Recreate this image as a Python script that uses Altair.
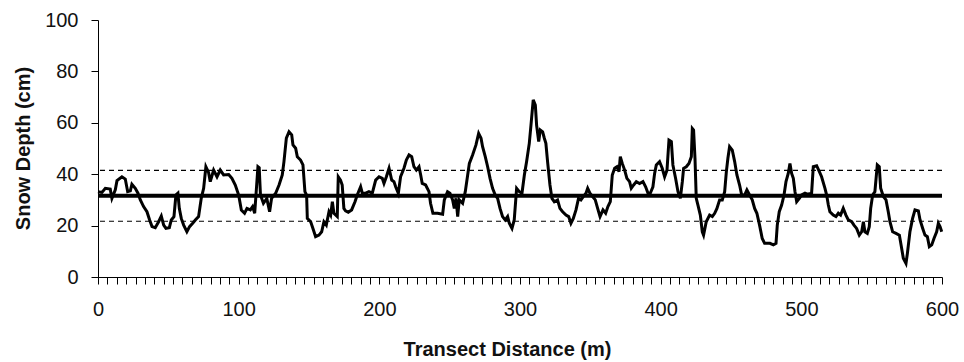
import altair as alt
import pandas as pd

# Transect distance (m) and snow depth (cm)
distance = [
    0, 2.8, 5.2, 8.7, 9.9, 12.3, 13.5, 17.0, 19.4, 21.1, 23.0, 24.1, 26.5, 28.4, 30.1, 32.4, 34.8, 36.7, 38.4, 40.7,
    43.1, 45.0, 46.7, 48.3, 50.7, 52.1, 54.0, 55.4, 56.8, 57.8, 59.2, 60.9, 63.2, 65.1, 67.3, 69.2, 71.5, 73.4, 75.1, 76.7,
    78.6, 79.8, 82.2, 84.6, 86.9, 89.3, 92.9, 95.2, 97.6, 100.0, 101.9, 104.2, 105.9, 108.3, 109.9, 111.4, 112.3, 113.7, 114.6, 115.5,
    117.6, 120.0,
    122.0, 123.4, 126.3, 128.7, 131.0, 132.2, 133.9, 135.8, 137.7, 138.6, 140.5, 141.7, 144.0, 145.7, 147.1, 148.3, 148.8, 151.2,
    152.8, 154.7, 157.1, 159.0, 160.6, 162.3, 164.2, 165.4, 166.6, 167.7, 170.1, 170.8, 172.4, 173.6, 174.8, 176.0, 177.9, 180.3,
    182.7, 184.3, 186.7, 187.9, 190.3, 192.6, 195.0, 197.4, 199.8, 202.1, 203.3, 205.0, 206.9, 208.8, 210.4, 211.6, 213.5, 215.1,
    217.5, 219.2, 221.1, 223.0, 224.6, 226.3, 228.2, 229.4, 230.5, 232.9, 235.3, 236.4, 238.1,
    241.4, 245.0, 246.2, 248.5, 250.2, 252.1, 253.3, 254.5, 255.7, 256.8, 259.2, 261.1, 262.8, 264.0, 266.3, 268.7, 270.6, 272.3,
    273.4, 275.3, 277.0, 278.7, 280.5, 282.4, 284.1, 285.8, 287.6, 289.5, 291.2, 292.4, 294.3, 295.9, 297.6, 299.5, 301.4, 303.1,
    304.7, 306.6, 307.8, 309.4, 310.9, 311.8, 313.3, 314.4, 316.1, 317.3, 318.4, 319.6, 321.3, 322.7, 324.4, 326.7, 328.4, 330.3,
    332.7, 334.6, 336.2, 337.9, 339.8, 341.6, 343.3, 345.0, 346.9, 348.1, 349.7, 351.6, 353.5, 355.2, 356.9,
    359.0, 360.9, 362.5, 364.2, 365.6, 367.3, 368.9, 370.4, 371.3, 372.7, 374.4, 376.0, 377.9, 379.1, 380.8, 382.7, 385.0, 387.4,
    389.3, 391.0, 392.6, 394.5, 395.7, 396.9, 399.2, 401.1, 402.8, 404.5, 405.9, 407.6, 408.7, 410.6, 412.3, 414.0, 415.4, 416.3,
    418.2, 420.1, 421.8, 422.5, 423.4, 424.4, 425.3, 426.5, 428.2, 429.6, 430.5, 432.4, 434.8, 436.7, 438.4, 440.0, 441.9, 443.8,
    445.5, 446.7, 447.8, 449.0, 450.9, 452.6, 454.2, 456.1, 457.6, 459.7, 461.3, 463.2, 465.1, 466.8, 468.4, 470.3, 472.2, 473.9,
    476.3,
    477.7, 480.1, 482.0, 482.9, 484.3, 486.0, 487.7, 489.1, 490.7, 491.9, 493.1, 494.3, 495.5, 496.7, 498.6, 500.2, 502.6, 504.3,
    507.3, 508.5, 510.9, 512.8, 514.4, 516.8, 518.0, 519.2, 520.3, 522.7, 524.6, 526.3, 527.9, 529.8, 531.7, 533.4, 535.8, 537.4,
    539.3, 541.2, 542.9, 544.1, 545.2, 546.9, 548.3, 549.3, 550.7, 552.3, 554.0, 555.4, 556.4, 558.3, 560.2, 561.8, 563.0, 564.9,
    567.3, 569.7, 571.3, 572.5, 574.4, 575.4, 577.2, 579.1, 580.8, 583.2, 584.4, 586.3, 587.9, 589.6, 591.0, 592.7, 594.3, 596.2,
    597.4, 598.6, 599.8,
]
depth = [
    33.2, 32.9, 34.5, 34.2, 30.6, 33.9, 37.5, 39.0, 38.1, 33.2, 33.5, 36.1, 34.5, 32.6, 30.0, 27.4, 25.4, 22.2, 19.6, 19.2,
    21.5, 23.7, 20.2, 18.9, 19.2, 22.2, 23.5, 31.9, 32.6, 26.7, 22.8, 20.2, 17.6, 19.6, 20.9, 22.2, 23.5, 30.6, 34.5, 42.9,
    40.7, 37.1, 41.6, 39.0, 41.6, 39.7, 39.9, 38.4, 35.8, 31.9, 26.1, 24.8, 26.7, 26.1, 27.4, 24.8, 31.9, 42.9, 42.5, 31.9,
    28.7, 30.6,
    25.4, 30.6, 32.6, 35.8, 39.7, 44.9, 54.0, 56.5, 55.3, 51.4, 50.1, 46.8, 45.5, 43.6, 33.2, 31.9, 22.8, 21.5,
    18.9, 15.7, 16.3, 17.6, 21.5, 20.2, 25.4, 24.1, 29.3, 24.8, 23.5, 39.0, 37.7, 35.8, 26.7, 25.7, 25.2, 26.1,
    29.3, 31.9, 35.1, 32.6, 32.6, 33.2, 32.6, 37.7, 39.0, 38.4, 36.4, 39.0, 42.3, 37.7, 37.1, 35.1, 32.6, 39.0,
    42.3, 45.5, 47.5, 46.8, 42.9, 41.6, 42.9, 39.7, 36.4, 35.8, 33.2, 28.7, 24.8,
    24.8, 24.4, 30.0, 33.2, 32.6, 30.0, 26.7, 30.6, 23.5, 30.0, 28.7, 33.2, 39.7, 44.2, 47.5, 51.4, 55.9, 54.0,
    50.7, 46.8, 42.9, 38.4, 34.5, 31.9, 30.6, 26.7, 23.5, 22.2, 23.5, 20.9, 18.9, 22.2, 34.5, 33.2, 32.6, 39.7,
    44.9, 52.0, 59.1, 68.9, 66.9, 59.1, 52.7, 57.2, 56.5, 54.0, 52.0, 44.9, 35.8, 30.6, 29.3, 30.0, 26.7, 25.4,
    24.1, 23.5, 20.9, 22.8, 26.1, 30.6, 30.0, 31.3, 32.6, 34.5, 32.6, 31.3, 30.0, 26.7, 23.5,
    26.1, 24.8, 27.4, 29.3, 39.7, 42.3, 42.9, 41.0, 46.8, 44.2, 41.6, 38.4, 37.1, 34.5, 35.8, 37.1, 36.4, 37.1,
    35.1, 32.6, 32.6, 35.1, 40.3, 43.6, 44.9, 42.3, 39.0, 41.6, 53.3, 52.7, 43.6, 38.4, 33.2, 30.6, 37.1, 42.3,
    42.9, 44.2, 46.8, 57.8, 57.2, 46.2, 30.6, 28.0, 24.1, 17.6, 16.3, 21.5, 24.1, 23.5, 24.8, 26.7, 30.0, 30.0,
    33.2, 41.0, 46.2, 50.7, 49.4, 44.9, 39.7, 35.8, 31.9, 31.9, 33.9, 31.9, 30.0, 26.7, 24.8, 20.2, 15.0, 13.1,
    13.1,
    13.1, 12.5, 13.1, 20.2, 25.4, 28.0, 31.9, 37.1, 40.3, 44.2, 40.3, 38.4, 33.2, 29.3, 30.6, 31.9, 32.6, 32.2,
    32.6, 42.9, 43.3, 41.0, 39.0, 34.5, 31.9, 28.0, 25.4, 24.1, 23.5, 24.8, 24.1, 26.7, 24.1, 22.2, 21.5, 20.2,
    18.9, 16.3, 17.6, 21.5, 17.6, 17.0, 19.6, 26.7, 31.9, 33.2, 43.6, 42.9, 34.5, 31.3, 30.0, 25.4, 21.5, 17.6,
    17.0, 16.3, 11.2, 7.3, 5.3, 9.2, 17.6, 22.8, 26.1, 25.7, 22.2, 18.9, 16.3, 15.7, 11.8, 12.5, 15.0, 17.6,
    20.9, 19.6, 17.6,
]

mean_depth = [31.6]
band_limits = [41.5, 21.7]

y_ticks = [0, 20, 40, 60, 80, 100]
x_minor_ticks = [i * 20 / 3 for i in range(91)]

FONT = "Liberation Sans"

series = pd.DataFrame({"distance": distance, "depth": depth})
mean_df = pd.DataFrame({"depth": mean_depth})
band_df = pd.DataFrame({"depth": band_limits})

x_scale = alt.Scale(domain=[0, 600], nice=False, zero=False)
y_scale = alt.Scale(domain=[0, 100], nice=False)

x_axis = alt.Axis(
    values=x_minor_ticks,
    labelExpr="(abs(datum.value % 100) < 0.01 || abs(datum.value % 100 - 100) < 0.01) ? format(datum.value, 'd') : ''",
    labelOverlap=False,
    labelFlush=False,
    grid=False,
    tickSize=7,
    tickColor="black",
    domainColor="black",
    labelPadding=15,
    labelFont=FONT,
    labelFontSize=20,
    labelColor="#111",
    title="Transect Distance (m)",
    titleFont=FONT,
    titleFontSize=20,
    titleFontWeight="bold",
    titleColor="#111",
    titleX=409,
    titleY=78,
    titleBaseline="alphabetic",
    titleAlign="center",
)
y_axis = alt.Axis(
    values=y_ticks,
    grid=False,
    tickSize=7,
    tickColor="black",
    domainColor="black",
    labelPadding=13,
    labelFont=FONT,
    labelFontSize=20,
    labelColor="#111",
    title="Snow Depth (cm)",
    titleFont=FONT,
    titleFontSize=20,
    titleFontWeight="bold",
    titleColor="#111",
    titleAngle=270,
    titleX=-69,
    titleY=128,
    titleBaseline="alphabetic",
    titleAlign="center",
)

line = alt.Chart(series).mark_line(color="black", strokeWidth=3, interpolate="linear").encode(
    x=alt.X("distance:Q", scale=x_scale, axis=x_axis),
    y=alt.Y("depth:Q", scale=y_scale, axis=y_axis),
)

mean_rule = alt.Chart(mean_df).mark_rule(color="black", strokeWidth=4).encode(
    y=alt.Y("depth:Q", scale=y_scale)
)

band_rules = alt.Chart(band_df).mark_rule(color="black", strokeWidth=1.2, strokeDash=[5, 4]).encode(
    y=alt.Y("depth:Q", scale=y_scale)
)

chart = (
    alt.layer(band_rules, mean_rule, line)
    .properties(
        width=844,
        height=257,
        autosize=alt.AutoSizeParams(type="none"),
        padding={"left": 98, "top": 20, "right": 22, "bottom": 85},
        background="white",
    )
    .configure_view(stroke=None)
)

chart.save("out.html", embed_options={"renderer": "svg", "actions": False})
